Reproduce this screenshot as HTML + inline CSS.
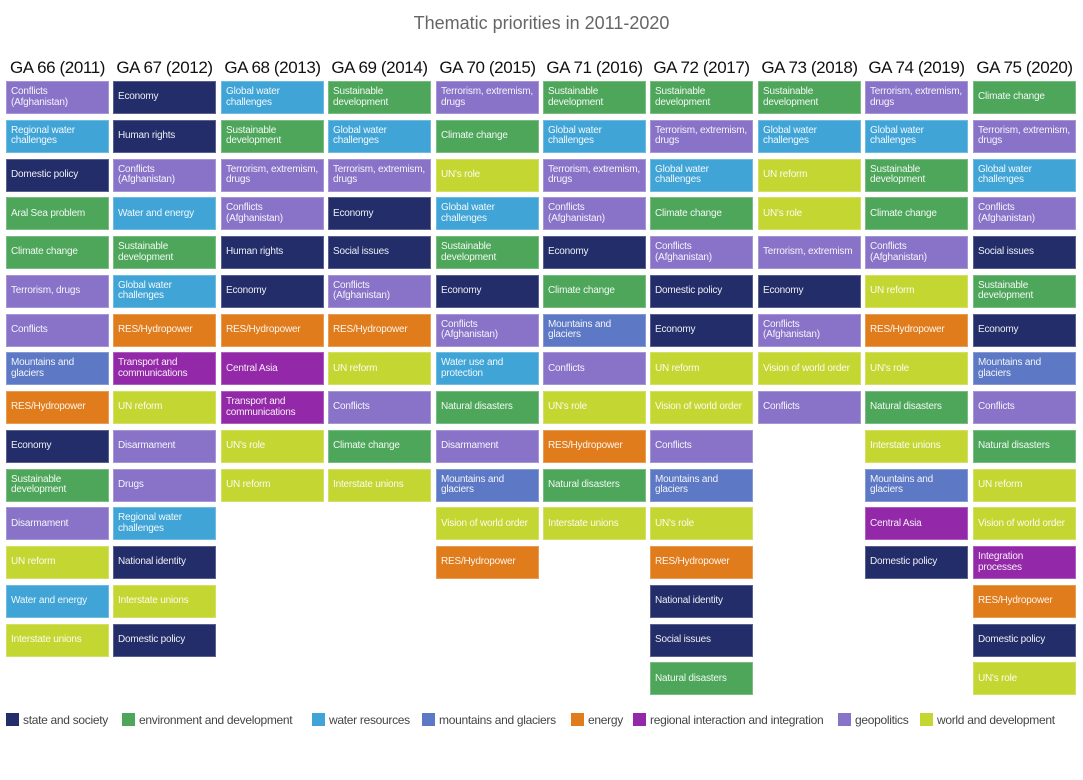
<!DOCTYPE html>
<html><head><meta charset="utf-8"><style>
body{margin:0;width:1083px;height:780px;background:#fff;position:relative;overflow:hidden;font-family:"Liberation Sans",sans-serif}
.t{position:absolute;top:13px;left:0;width:1083px;text-align:center;font-size:18px;color:#666}
.col{position:absolute;top:58px;width:103px}
.h{height:23px;text-align:center;font-size:17px;color:#111;white-space:nowrap;letter-spacing:-0.4px;margin-left:-3px;margin-right:-3px}
.b{height:33px;margin-bottom:5.75px;box-sizing:border-box;color:rgba(255,255,255,.92);font-size:10px;line-height:10.5px;padding:0 4px;display:flex;align-items:center;border:1px solid rgba(255,255,255,.25);white-space:nowrap;letter-spacing:-0.2px;overflow:hidden}
.S{background:#232d69}.E{background:#4ea65b}.W{background:#40a4d7}.M{background:#5d78c4}.N{background:#e07c1c}.R{background:#9328a8}.G{background:#8873c8}.D{background:#c4d631}
.lg{position:absolute;top:713px;font-size:12px;color:#444;white-space:nowrap;letter-spacing:-0.3px}
.lg i{display:inline-block;width:13px;height:13px;vertical-align:-2px;margin-right:4px}
</style></head><body>
<div class="t">Thematic priorities in 2011-2020</div>

<div class="col" style="left:6px"><div class="h">GA 66 (2011)</div>
<div class="b G">Conflicts<br>(Afghanistan)</div><div class="b W">Regional water<br>challenges</div><div class="b S">Domestic policy</div><div class="b E">Aral Sea problem</div><div class="b E">Climate change</div><div class="b G">Terrorism, drugs</div><div class="b G">Conflicts</div><div class="b M">Mountains and<br>glaciers</div><div class="b N">RES/Hydropower</div><div class="b S">Economy</div><div class="b E">Sustainable<br>development</div><div class="b G">Disarmament</div><div class="b D">UN reform</div><div class="b W">Water and energy</div><div class="b D">Interstate unions</div></div>

<div class="col" style="left:113px"><div class="h">GA 67 (2012)</div>
<div class="b S">Economy</div><div class="b S">Human rights</div><div class="b G">Conflicts<br>(Afghanistan)</div><div class="b W">Water and energy</div><div class="b E">Sustainable<br>development</div><div class="b W">Global water<br>challenges</div><div class="b N">RES/Hydropower</div><div class="b R">Transport and<br>communications</div><div class="b D">UN reform</div><div class="b G">Disarmament</div><div class="b G">Drugs</div><div class="b W">Regional water<br>challenges</div><div class="b S">National identity</div><div class="b D">Interstate unions</div><div class="b S">Domestic policy</div></div>

<div class="col" style="left:221px"><div class="h">GA 68 (2013)</div>
<div class="b W">Global water<br>challenges</div><div class="b E">Sustainable<br>development</div><div class="b G">Terrorism, extremism,<br>drugs</div><div class="b G">Conflicts<br>(Afghanistan)</div><div class="b S">Human rights</div><div class="b S">Economy</div><div class="b N">RES/Hydropower</div><div class="b R">Central Asia</div><div class="b R">Transport and<br>communications</div><div class="b D">UN's role</div><div class="b D">UN reform</div></div>

<div class="col" style="left:328px"><div class="h">GA 69 (2014)</div>
<div class="b E">Sustainable<br>development</div><div class="b W">Global water<br>challenges</div><div class="b G">Terrorism, extremism,<br>drugs</div><div class="b S">Economy</div><div class="b S">Social issues</div><div class="b G">Conflicts<br>(Afghanistan)</div><div class="b N">RES/Hydropower</div><div class="b D">UN reform</div><div class="b G">Conflicts</div><div class="b E">Climate change</div><div class="b D">Interstate unions</div></div>

<div class="col" style="left:436px"><div class="h">GA 70 (2015)</div>
<div class="b G">Terrorism, extremism,<br>drugs</div><div class="b E">Climate change</div><div class="b D">UN's role</div><div class="b W">Global water<br>challenges</div><div class="b E">Sustainable<br>development</div><div class="b S">Economy</div><div class="b G">Conflicts<br>(Afghanistan)</div><div class="b W">Water use and<br>protection</div><div class="b E">Natural disasters</div><div class="b G">Disarmament</div><div class="b M">Mountains and<br>glaciers</div><div class="b D">Vision of world order</div><div class="b N">RES/Hydropower</div></div>

<div class="col" style="left:543px"><div class="h">GA 71 (2016)</div>
<div class="b E">Sustainable<br>development</div><div class="b W">Global water<br>challenges</div><div class="b G">Terrorism, extremism,<br>drugs</div><div class="b G">Conflicts<br>(Afghanistan)</div><div class="b S">Economy</div><div class="b E">Climate change</div><div class="b M">Mountains and<br>glaciers</div><div class="b G">Conflicts</div><div class="b D">UN's role</div><div class="b N">RES/Hydropower</div><div class="b E">Natural disasters</div><div class="b D">Interstate unions</div></div>

<div class="col" style="left:650px"><div class="h">GA 72 (2017)</div>
<div class="b E">Sustainable<br>development</div><div class="b G">Terrorism, extremism,<br>drugs</div><div class="b W">Global water<br>challenges</div><div class="b E">Climate change</div><div class="b G">Conflicts<br>(Afghanistan)</div><div class="b S">Domestic policy</div><div class="b S">Economy</div><div class="b D">UN reform</div><div class="b D">Vision of world order</div><div class="b G">Conflicts</div><div class="b M">Mountains and<br>glaciers</div><div class="b D">UN's role</div><div class="b N">RES/Hydropower</div><div class="b S">National identity</div><div class="b S">Social issues</div><div class="b E">Natural disasters</div></div>

<div class="col" style="left:758px"><div class="h">GA 73 (2018)</div>
<div class="b E">Sustainable<br>development</div><div class="b W">Global water<br>challenges</div><div class="b D">UN reform</div><div class="b D">UN's role</div><div class="b G">Terrorism, extremism</div><div class="b S">Economy</div><div class="b G">Conflicts<br>(Afghanistan)</div><div class="b D">Vision of world order</div><div class="b G">Conflicts</div></div>

<div class="col" style="left:865px"><div class="h">GA 74 (2019)</div>
<div class="b G">Terrorism, extremism,<br>drugs</div><div class="b W">Global water<br>challenges</div><div class="b E">Sustainable<br>development</div><div class="b E">Climate change</div><div class="b G">Conflicts<br>(Afghanistan)</div><div class="b D">UN reform</div><div class="b N">RES/Hydropower</div><div class="b D">UN's role</div><div class="b E">Natural disasters</div><div class="b D">Interstate unions</div><div class="b M">Mountains and<br>glaciers</div><div class="b R">Central Asia</div><div class="b S">Domestic policy</div></div>

<div class="col" style="left:973px"><div class="h">GA 75 (2020)</div>
<div class="b E">Climate change</div><div class="b G">Terrorism, extremism,<br>drugs</div><div class="b W">Global water<br>challenges</div><div class="b G">Conflicts<br>(Afghanistan)</div><div class="b S">Social issues</div><div class="b E">Sustainable<br>development</div><div class="b S">Economy</div><div class="b M">Mountains and<br>glaciers</div><div class="b G">Conflicts</div><div class="b E">Natural disasters</div><div class="b D">UN reform</div><div class="b D">Vision of world order</div><div class="b R">Integration<br>processes</div><div class="b N">RES/Hydropower</div><div class="b S">Domestic policy</div><div class="b D">UN's role</div></div>

<div class="lg" style="left:6px"><i class="S"></i>state and society</div>
<div class="lg" style="left:122px"><i class="E"></i>environment and development</div>
<div class="lg" style="left:312px"><i class="W"></i>water resources</div>
<div class="lg" style="left:422px"><i class="M"></i>mountains and glaciers</div>
<div class="lg" style="left:571px"><i class="N"></i>energy</div>
<div class="lg" style="left:633px"><i class="R"></i>regional interaction and integration</div>
<div class="lg" style="left:838px"><i class="G"></i>geopolitics</div>
<div class="lg" style="left:920px"><i class="D"></i>world and development</div>
</body></html>
